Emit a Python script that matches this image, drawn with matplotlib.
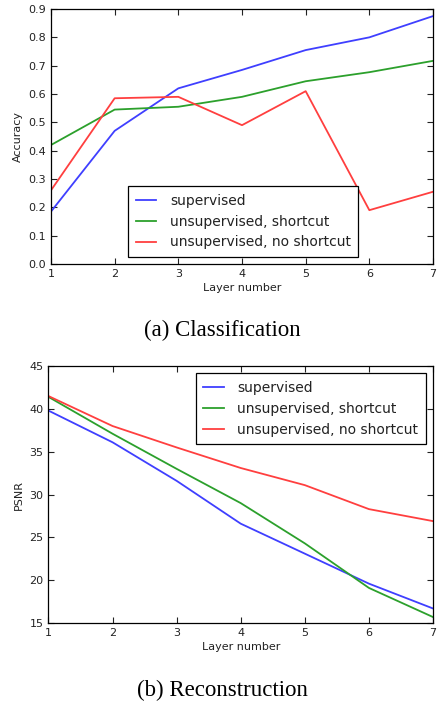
import matplotlib.pyplot as plt
import numpy as np

layers = [1, 2, 3, 4, 5, 6, 7]
labels = ["supervised", "unsupervised, shortcut", "unsupervised, no shortcut"]
colors = ["#3f3fff", "#2ca02c", "#ff3f3f"]

# classification accuracy
acc_sup = [0.185, 0.47, 0.62, 0.685, 0.755, 0.80, 0.875]
acc_short = [0.42, 0.545, 0.555, 0.59, 0.645, 0.677, 0.717]
acc_noshort = [0.26, 0.585, 0.59, 0.49, 0.61, 0.19, 0.255]

# reconstruction PSNR
psnr_sup = [39.8, 36.1, 31.6, 26.6, 23.1, 19.6, 16.7]
psnr_short = [41.4, 37.1, 33.0, 29.0, 24.3, 19.1, 15.7]
psnr_noshort = [41.5, 38.0, 35.5, 33.1, 31.1, 28.3, 26.9]

plt.rcParams['font.size'] = 8
plt.rcParams['xtick.direction'] = 'in'
plt.rcParams['ytick.direction'] = 'in'
plt.rcParams['xtick.top'] = True
plt.rcParams['ytick.right'] = True
plt.rcParams['xtick.major.size'] = 4
plt.rcParams['ytick.major.size'] = 4
plt.rcParams['text.color'] = '#222222'
plt.rcParams['xtick.color'] = '#222222'
plt.rcParams['ytick.color'] = '#222222'
plt.rcParams['axes.labelcolor'] = '#222222'


def style_legend(ax, **kw):
    leg = ax.legend(fontsize=10, fancybox=False, handlelength=1.45, handletextpad=1.0,
                    borderpad=0.55, labelspacing=0.5, **kw)
    leg.get_frame().set_edgecolor('black')
    leg.get_frame().set_linewidth(0.9)
    leg.get_frame().set_alpha(1)
    return leg


fig = plt.figure(figsize=(4.38, 7.04), dpi=100)

ax1 = fig.add_axes([0.1164, 0.625, 0.8722, 0.3622])
for vals, lab, c in zip([acc_sup, acc_short, acc_noshort], labels, colors):
    ax1.plot(layers, vals, color=c, linewidth=1.3, label=lab)
ax1.set_xlim(1, 7)
ax1.set_ylim(0.0, 0.9)
ax1.set_yticks(np.arange(0, 0.91, 0.1))
ax1.set_ylabel("Accuracy")
ax1.set_xlabel("Layer number", labelpad=3)
style_legend(ax1, loc='lower left', bbox_to_anchor=(0.202, 0.027), borderaxespad=0)

ax2 = fig.add_axes([0.1107, 0.115, 0.8779, 0.365])
for vals, lab, c in zip([psnr_sup, psnr_short, psnr_noshort], labels, colors):
    ax2.plot(layers, vals, color=c, linewidth=1.3, label=lab)
ax2.set_xlim(1, 7)
ax2.set_ylim(15, 45)
ax2.set_ylabel("PSNR")
ax2.set_xlabel("Layer number", labelpad=3)
style_legend(ax2, loc='upper right', borderaxespad=0.5)

for ax in (ax1, ax2):
    for s in ax.spines.values():
        s.set_linewidth(0.9)

fig.text(0.507, 1 - 330 / 704, "(a) Classification", ha='center', va='center',
         family='Liberation Serif', fontsize=16.5, color='black')
fig.text(0.507, 1 - 690 / 704, "(b) Reconstruction", ha='center', va='center',
         family='Liberation Serif', fontsize=16.5, color='black')

fig.savefig("out.png", dpi=100)
